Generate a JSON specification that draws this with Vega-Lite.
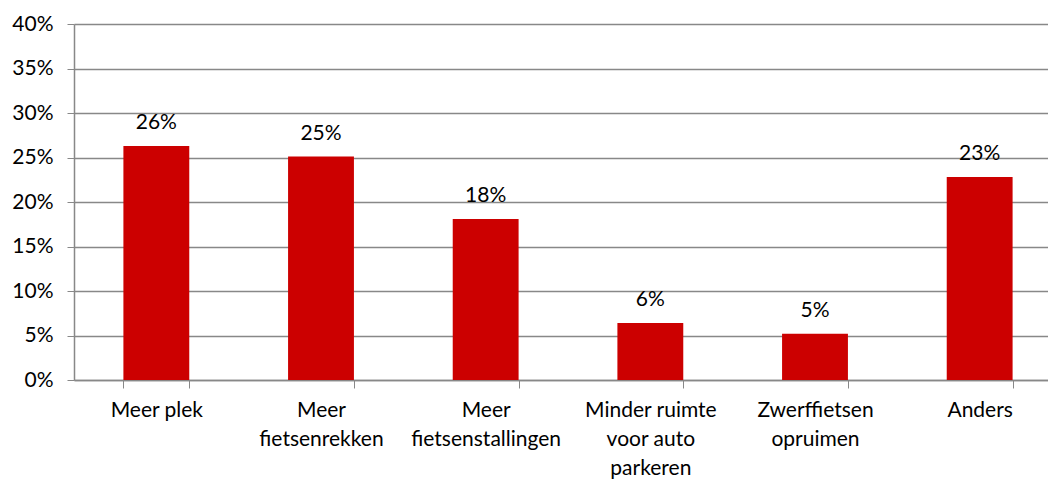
{
  "$schema": "https://vega.github.io/schema/vega-lite/v6.json",
  "autosize": "none",
  "width": 974,
  "height": 356,
  "padding": {"left": 74, "top": 24, "right": 0, "bottom": 100},
  "background": "white",
  "config": {
    "view": {"stroke": null},
    "font": "Lato"
  },
  "data": {
    "values": [
      {"category": "Meer plek", "value": 0.263},
      {"category": "Meer fietsenrekken", "value": 0.251},
      {"category": "Meer fietsenstallingen", "value": 0.181},
      {"category": "Minder ruimte voor auto parkeren", "value": 0.064},
      {"category": "Zwerffietsen opruimen", "value": 0.052},
      {"category": "Anders", "value": 0.228}
    ]
  },
  "encoding": {
    "x": {
      "field": "category",
      "type": "nominal",
      "sort": null,
      "scale": {"range": [0, 988], "paddingInner": 0.6, "paddingOuter": 0.3},
      "axis": {
        "title": null,
        "labelAngle": 0,
        "labelFontSize": 21,
        "labelColor": "#000000",
        "labelPadding": 11,
        "labelLineHeight": 29,
        "labelBaseline": "top",
        "labelExpr": "datum.value == 'Meer fietsenrekken' ? ['Meer', 'fietsenrekken'] : datum.value == 'Meer fietsenstallingen' ? ['Meer', 'fietsenstallingen'] : datum.value == 'Minder ruimte voor auto parkeren' ? ['Minder ruimte', 'voor auto', 'parkeren'] : datum.value == 'Zwerffietsen opruimen' ? ['Zwerffietsen', 'opruimen'] : datum.value",
        "bandPosition": 0,
        "tickBand": "extent",
        "ticks": true,
        "tickSize": 8,
        "tickColor": "#888888",
        "domainColor": "#888888",
        "domainWidth": 1.5,
        "grid": false
      }
    },
    "y": {
      "field": "value",
      "type": "quantitative",
      "scale": {"domain": [0, 0.4], "nice": false},
      "axis": {
        "title": null,
        "format": ".0%",
        "values": [0, 0.05, 0.1, 0.15, 0.2, 0.25, 0.3, 0.35, 0.4],
        "labelFontSize": 21,
        "labelColor": "#000000",
        "labelPadding": 14,
        "tickSize": 7,
        "tickColor": "#888888",
        "domainColor": "#888888",
        "domainWidth": 1.5,
        "gridColor": "#888888",
        "gridWidth": 1.5
      }
    }
  },
  "layer": [
    {"mark": {"type": "bar", "color": "#CC0000"}},
    {
      "mark": {"type": "text", "baseline": "bottom", "dy": -13, "fontSize": 21, "color": "#000000"},
      "encoding": {"text": {"field": "value", "type": "quantitative", "format": ".0%"}}
    }
  ]
}
